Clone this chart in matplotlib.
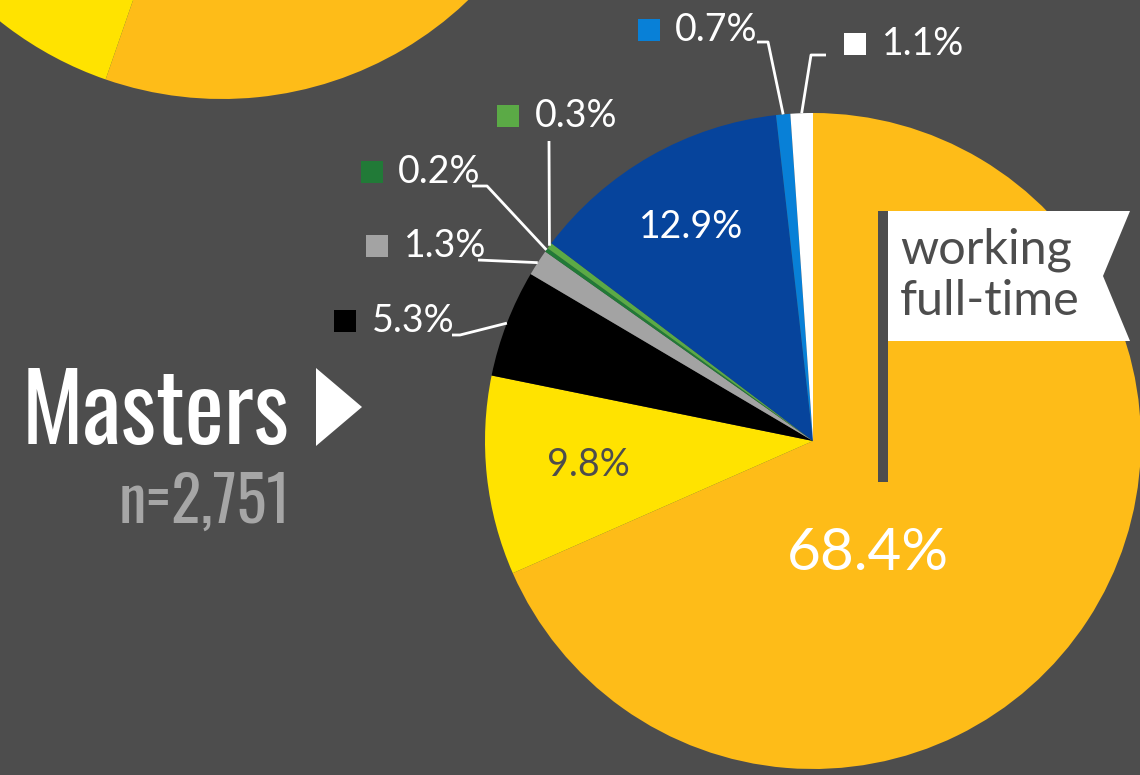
import matplotlib
matplotlib.use('Agg')
import matplotlib.pyplot as plt
from matplotlib.patches import Rectangle, Polygon
from matplotlib import font_manager
import numpy as np

# Masters, n=2,751 -- shares (%) clockwise from 12 o'clock
values = [68.4, 9.8, 5.3, 1.3, 0.2, 0.3, 12.9, 0.7, 1.1]
colors = ['#FEBC18', '#FFE300', '#000000', '#A3A3A3', '#217A37',
          '#5BAA46', '#06449C', '#0880D7', '#FFFFFF']
flag_text = 'working\nfull-time'
title = 'Masters'
n_text = 'n=2,751'

# the neighbouring pie peeking in at the top left (only its bottom is visible)
top_values = [55.3, 10.0, 34.7]
top_colors = ['#FEBC18', '#FFE300', '#FEBC18']

bg = '#4D4D4D'
W, H = 1140, 775
cx, cy, r = 813, 441, 328

have = {f.name for f in font_manager.fontManager.ttflist}
cond = next((f for f in ['Oswald', 'League Gothic', 'Roboto Condensed',
                         'Liberation Sans Narrow', 'DejaVu Sans Condensed']
             if f in have), 'DejaVu Sans')
lab_font = 'Lato' if 'Lato' in have else 'DejaVu Sans'

fig = plt.figure(figsize=(W / 100, H / 100), dpi=100, facecolor=bg)
ax = fig.add_axes([0, 0, 1, 1])
ax.set_facecolor(bg)

# y axis is flipped below, so start at -90 and go counterclockwise in data
# to get "start at top, clockwise" on screen
ax.pie(top_values, colors=top_colors, radius=356, center=(222, -257),
       startangle=-90, counterclock=True, frame=True,
       wedgeprops=dict(linewidth=0))
wedges, _ = ax.pie(values, colors=colors, radius=r, center=(cx, cy),
                   startangle=-90, counterclock=True, frame=True,
                   wedgeprops=dict(linewidth=0))

ax.set_xlim(0, W)
ax.set_ylim(H, 0)
ax.set_aspect('equal')
ax.axis('off')


def polar(i, d):
    th = np.deg2rad((wedges[i].theta1 + wedges[i].theta2) / 2)
    return cx + d * np.cos(th), cy + d * np.sin(th)


# labels inside the slices
x, y = polar(6, 0.75 * r)
ax.text(x, y, f'{values[6]}%', color='white', fontsize=27, family=lab_font,
        ha='center', va='center')
x, y = polar(1, 0.69 * r)
ax.text(x, y, f'{values[1]}%', color=bg, fontsize=27, family=lab_font,
        ha='center', va='center')
ax.text(868, 553, f'{values[0]}%', color='white', fontsize=42, family=lab_font,
        ha='center', va='center')

# small slices: square key + text + leader line to the slice edge
outside = {
    2: dict(sq=(334, 310), tx=372, ty=321, elbow=[(452, 335), (460, 335)]),
    3: dict(sq=(366, 235), tx=404, ty=246, elbow=[(478, 260)]),
    4: dict(sq=(361, 161), tx=398, ty=172, elbow=[(472, 186), (487, 186)]),
    5: dict(sq=(497, 105), tx=535, ty=116, elbow=[(549, 141)]),
    7: dict(sq=(638, 19), tx=675, ty=30, elbow=[(757, 42), (768, 42)]),
    8: dict(sq=(844, 33), tx=882, ty=44, elbow=[(826, 55), (811, 55)]),
}
for i, o in outside.items():
    ax.add_patch(Rectangle(o['sq'], 22, 22, color=colors[i], lw=0))
    ax.text(o['tx'], o['ty'], f'{values[i]}%', color='white', fontsize=27,
            family=lab_font, ha='left', va='center')
    pts = o['elbow'] + [polar(i, r)]
    ax.plot([p[0] for p in pts], [p[1] for p in pts], color='white', lw=2,
            solid_capstyle='butt')

# "working full-time" flag
ax.add_patch(Rectangle((878, 211), 10, 271, color=bg, lw=0))
ax.add_patch(Polygon([(888, 211), (1130, 211), (1103, 276), (1130, 341),
                      (888, 341)], closed=True, color='white', lw=0))
ax.text(900, 275, flag_text, color=bg, fontsize=35, family=lab_font,
        ha='left', va='center', linespacing=1.2)

# title block
t1 = ax.text(22, 444, title, color='white', fontsize=80, family=cond,
             ha='left', va='baseline')
t2 = ax.text(290, 523, n_text, color='#A6A6A6', fontsize=50, family=cond,
             ha='right', va='baseline')
ax.add_patch(Polygon([(316, 368), (362, 407), (316, 446)], closed=True,
                     color='white', lw=0))

fig.canvas.draw()
for t, w in [(t1, 268), (t2, 172)]:
    bb = t.get_window_extent()
    t.set_fontsize(t.get_fontsize() * w / bb.width)

fig.savefig('out.png', dpi=100, facecolor=bg)
